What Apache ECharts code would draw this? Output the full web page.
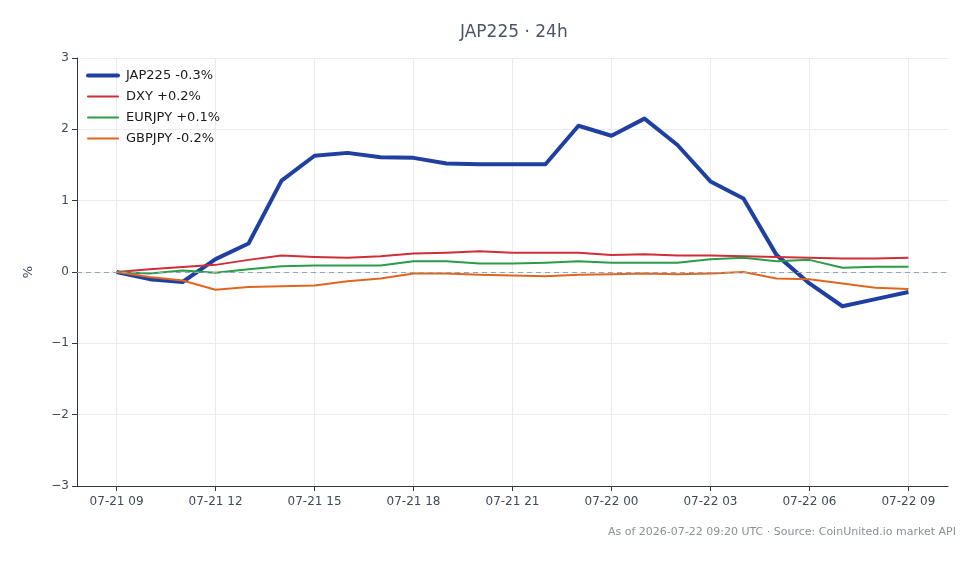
<!DOCTYPE html>
<html>
<head>
<meta charset="utf-8">
<title>JAP225 · 24h</title>
<script src="https://cdn.jsdelivr.net/npm/echarts@6/dist/echarts.min.js"></script>
<style>
  html, body { margin: 0; padding: 0; background: #fff; }
  #chart { width: 980px; height: 564px; }
</style>
</head>
<body>
<div id="chart"></div>
<script>
// hours since 07-21 09:00 UTC
const hours = [0, 1, 2, 3, 4, 5, 6, 7, 8, 9, 10, 11, 12, 13, 14, 15, 16, 17, 18, 19, 20, 21, 22, 23, 24];

const jap225 = [0, -0.1, -0.14, 0.18, 0.4, 1.28, 1.63, 1.67, 1.61, 1.6, 1.52, 1.51, 1.51, 1.51, 2.05, 1.91, 2.15, 1.78, 1.27, 1.03, 0.24, -0.16, -0.48, -0.38, -0.28];
const dxy = [0, 0.04, 0.07, 0.1, 0.17, 0.23, 0.21, 0.2, 0.22, 0.26, 0.27, 0.29, 0.27, 0.27, 0.27, 0.24, 0.25, 0.23, 0.23, 0.22, 0.21, 0.2, 0.19, 0.19, 0.2];
const eurjpy = [0, -0.02, 0.02, -0.01, 0.04, 0.08, 0.09, 0.09, 0.09, 0.15, 0.15, 0.12, 0.12, 0.13, 0.15, 0.13, 0.13, 0.13, 0.18, 0.2, 0.15, 0.17, 0.06, 0.075, 0.075];
const gbpjpy = [0, -0.07, -0.12, -0.25, -0.21, -0.2, -0.19, -0.13, -0.09, -0.02, -0.02, -0.04, -0.05, -0.06, -0.04, -0.03, -0.02, -0.03, -0.02, 0, -0.09, -0.1, -0.16, -0.22, -0.24];

const seriesNames = ["JAP225 -0.3%", "DXY +0.2%", "EURJPY +0.1%", "GBPJPY -0.2%"];
const seriesColors = ["#1f40a0", "#cf2e37", "#2a9d48", "#e0661e"];
const seriesWidths = [4, 2, 2, 2];

const tickHours = [0, 3, 6, 9, 12, 15, 18, 21, 24];
const tickLabels = ["07-21 09", "07-21 12", "07-21 15", "07-21 18", "07-21 21", "07-22 00", "07-22 03", "07-22 06", "07-22 09"];

const footerText = "As of 2026-07-22 09:20 UTC · Source: CoinUnited.io market API";

function pairs(values) {
    return hours.map(function (h, i) { return [h, values[i]]; });
}

const font = "DejaVu Sans";
const chart = echarts.init(document.getElementById("chart"));

const lines = [jap225, dxy, eurjpy, gbpjpy].map(function (values, i) {
    const s = {
        name: seriesNames[i],
        type: "line",
        data: pairs(values),
        symbol: "none",
        color: seriesColors[i],
        lineStyle: { width: seriesWidths[i], color: seriesColors[i], join: "round" },
        z: 3,
        animation: false
    };
    if (i == 0) {
        // dashed zero reference
        s.markLine = {
            silent: true,
            symbol: "none",
            label: { show: false },
            lineStyle: { type: [5, 4], color: "#94a3b8", width: 1 },
            data: [{ yAxis: 0 }]
        };
    }
    return s;
});

const legendItems = seriesNames.map(function (name, i) {
    return { name: name, lineStyle: { width: seriesWidths[i], cap: "round" } };
});

chart.setOption({
    backgroundColor: "#fff",
    animation: false,
    textStyle: { fontFamily: font },
    title: {
        text: "JAP225 · 24h",
        left: 455,
        top: 19,
        textStyle: { fontFamily: font, fontSize: 17, fontWeight: "normal", color: "#4a5568" }
    },
    legend: {
        orient: "vertical",
        left: 81,
        top: 64,
        itemWidth: 30,
        itemHeight: 12,
        itemGap: 8,
        itemStyle: { opacity: 0 },
        textStyle: { fontFamily: font, fontSize: 13, color: "#1a1a1a", padding: [0, 0, 0, 3] },
        data: legendItems
    },
    grid: { left: 77, right: 32, top: 58, bottom: 78 },
    xAxis: {
        type: "value",
        min: -1.2,
        max: 25.2,
        axisLine: { show: true, onZero: false, lineStyle: { color: "#2d3748", width: 1 } },
        axisTick: { show: true, length: 5, customValues: tickHours, lineStyle: { color: "#2d3748" } },
        axisLabel: {
            customValues: tickHours,
            fontFamily: font,
            fontSize: 12,
            color: "#3f4a5a",
            margin: 10,
            formatter: function (v) {
                const i = tickHours.indexOf(Math.round(v));
                return i >= 0 ? tickLabels[i] : "";
            }
        },
        splitLine: { show: true, lineStyle: { color: "#e8ebf0", width: 1 } }
    },
    yAxis: {
        type: "value",
        min: -3,
        max: 3,
        interval: 1,
        name: "%",
        nameLocation: "middle",
        nameGap: 42,
        nameTextStyle: { fontFamily: font, fontSize: 13, color: "#3f4a5a" },
        axisLine: { show: true, onZero: false, lineStyle: { color: "#2d3748", width: 1 } },
        axisTick: { show: true, length: 5, lineStyle: { color: "#2d3748" } },
        axisLabel: {
            fontFamily: font,
            fontSize: 12,
            color: "#3f4a5a",
            margin: 8,
            formatter: function (v) { return String(v).replace("-", "\u2212"); }
        },
        splitLine: { show: true, lineStyle: { color: "#e8ebf0", width: 1 } }
    },
    graphic: [{
        type: "text",
        right: 24,
        top: 527,
        style: { text: footerText, fontFamily: font, fontSize: 11, fill: "#8a8f98" }
    }],
    series: lines
});
</script>
</body>
</html>
